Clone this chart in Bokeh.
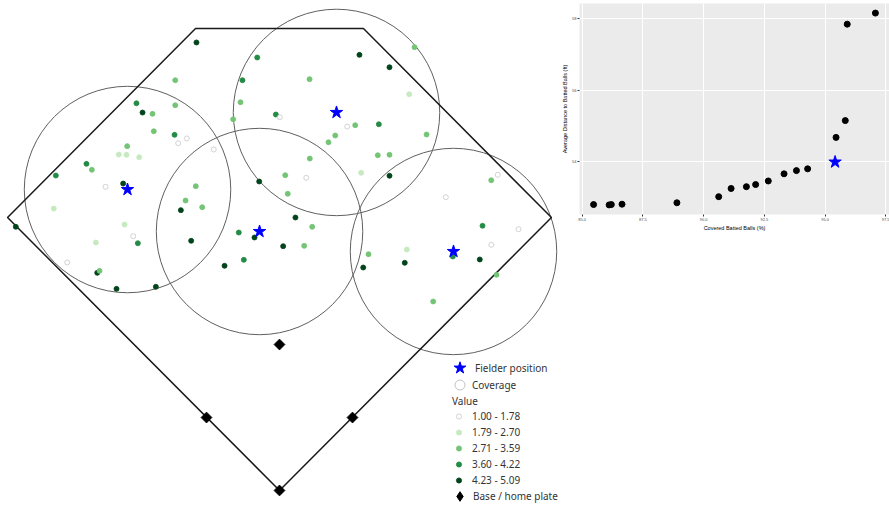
import numpy as np
from bokeh.plotting import figure
from bokeh.models import (Range1d, Legend, LegendItem, FixedTicker,
                          PrintfTickFormatter, ColumnDataSource)
from bokeh.layouts import row, column
from bokeh.embed import file_html
from bokeh.resources import INLINE

# ---------------- Field data (feet, home plate at origin) ----------------
base_x = [0.0, 63.64, 0.0, -63.64]
base_y = [0.0, 63.64, 127.28, 63.64]

fence_x = [0.0, -237.1, -73.2, 73.2, 237.1, 0.0]
fence_y = [0.0, 238.0, 402.8, 402.8, 238.0, 0.0]

fielder_x = [-132.5, -17.4, 49.7, 151.7]
fielder_y = [262.4, 225.8, 329.6, 208.4]
coverage_radius_ft = 90

ball_x = [-72.4, -19.4, -90.9, -32.3, -124.7, -119.4, -110.7, -90.9, -34.0, -40.4,
          -3.2, 0.3, -109.6, -91.5, -80.8, -88.3, -132.8, -140.1, -133.4, -122.3,
          -57.3, -168.3, -163.6, -195.0, -136.3, -151.7, -196.8, -229.9, -135.1, -127.5,
          -123.5, -160.1, -185.1, -158.9, -156.9, -142.1, -107.8, -17.7, 5.0, 7.2,
          -73.0, -81.9, -67.4, -86.0, 13.9, -35.5, -21.8, 3.2, -77.0, -31.1,
          -47.9, 69.7, 95.9, 117.7, 26.2, 113.1, 59.0, 66.0, 86.6, 48.6,
          42.7, 128.2, 85.7, 95.9, 26.4, 71.2, 23.3, 95.9, 145.0, 28.5,
          21.5, 77.6, 111.0, 109.2, 73.0, 134.0, 190.3, 184.6, 177.0, 208.4,
          184.6, 151.1, 174.6, 189.2]
ball_y = [390.6, 377.5, 357.7, 357.7, 337.6, 329.5, 328.4, 335.9, 338.5, 323.7,
          327.8, 325.4, 313.2, 310.1, 306.9, 302.8, 300.2, 292.9, 292.7, 290.6,
          297.3, 284.8, 279.6, 274.6, 267.6, 264.8, 245.8, 229.9, 231.9, 221.7,
          215.6, 216.2, 198.8, 189.8, 191.5, 175.8, 177.6, 269.4, 274.9, 258.7,
          265.3, 252.8, 247.0, 244.4, 238.0, 224.9, 220.6, 213.0, 217.7, 201.1,
          195.9, 379.8, 369.0, 386.5, 358.6, 345.5, 317.3, 318.5, 319.3, 309.5,
          303.6, 310.4, 292.3, 292.7, 289.4, 277.0, 272.6, 274.4, 255.7, 229.9,
          213.3, 206.0, 210.1, 198.5, 194.4, 164.8, 275.2, 270.5, 230.8, 227.8,
          214.2, 204.0, 201.4, 188.0]
ball_bin = [5, 4, 3, 4, 4, 5, 3, 3, 3, 3,
            4, 1, 3, 4, 1, 1, 3, 2, 2, 2,
            1, 4, 3, 4, 5, 1, 2, 5, 2, 1,
            4, 2, 1, 5, 3, 5, 5, 5, 3, 3,
            3, 3, 3, 5, 5, 4, 5, 5, 5, 4,
            5, 5, 5, 3, 3, 2, 1, 3, 4, 3,
            3, 3, 3, 3, 3, 2, 1, 5, 1, 3,
            3, 3, 2, 5, 5, 3, 1, 3, 4, 1,
            1, 4, 5, 3]

value_labels = ["1.00 - 1.78", "1.79 - 2.70", "2.71 - 3.59", "3.60 - 4.22", "4.23 - 5.09"]
value_fill = ["#ffffff", "#c7e9c0", "#74c476", "#238b45", "#00441b"]
value_line = ["#c8c8c8", "#c7e9c0", "#74c476", "#238b45", "#00441b"]

# ---------------- Trade-off data ----------------
covered_pct = [85.47, 86.11, 86.20, 86.64, 88.90, 90.62, 91.13, 91.76, 92.14,
               92.66, 93.31, 93.82, 94.28, 95.45, 95.83, 95.91, 97.07]
avg_dist = [52.80, 52.79, 52.80, 52.81, 52.85, 53.02, 53.25, 53.30, 53.36,
            53.46, 53.66, 53.75, 53.80, 54.68, 55.15, 57.85, 58.16]
chosen_pct = [95.41]
chosen_dist = [53.99]
x_ticks = [85.0, 87.5, 90.0, 92.5, 95.0, 97.5]
y_ticks = [54, 56, 58]

FONT = "Noto Sans"
NAN = [float("nan")]

# ---------------- Field figure ----------------
p = figure(width=580, height=505, x_range=Range1d(-243.24, 262.42),
           y_range=Range1d(-13.08, 427.20), output_backend="svg",
           x_axis_type=None, y_axis_type=None, title=None,
           toolbar_location=None, min_border=0, outline_line_color=None)
p.grid.visible = False

p.circle(x=fielder_x, y=fielder_y, radius=coverage_radius_ft,
         fill_color=None, line_color="#5f5f5f", line_width=1)
p.line(fence_x, fence_y, line_color="#1a1a1a", line_width=1.5)
p.scatter(base_x, base_y, marker="square", angle=np.pi / 4, size=7.6,
          fill_color="black", line_color="black")

src = ColumnDataSource(dict(
    x=ball_x, y=ball_y,
    fill=[value_fill[b - 1] for b in ball_bin],
    line=[value_line[b - 1] for b in ball_bin]))
r_balls = p.scatter("x", "y", source=src, size=5, fill_color="fill",
                    line_color="line", line_width=0.8)
r_star = p.scatter(fielder_x, fielder_y, marker="star", size=13,
                   fill_color="#0000ff", line_color="#0000ff")
# legend keys (no visible data)
r_cov_key = p.scatter(x=NAN, y=NAN, marker="circle", fill_color=None,
                      line_color="#c4c4c4", line_width=1)
r_base_key = p.scatter(x=NAN, y=NAN, marker="diamond", fill_color="black",
                       line_color="black")

common = dict(padding=0, margin=0, border_line_color=None, background_fill_alpha=0,
              label_text_font=FONT, label_text_font_size="10px",
              label_text_color="#333333", spacing=0)

leg_star = Legend(items=[LegendItem(label="Fielder position", renderers=[r_star])],
                  location=(444, 122), glyph_width=31, glyph_height=31,
                  label_height=31, label_standoff=-4, **common)
leg_cov = Legend(items=[LegendItem(label="Coverage", renderers=[r_cov_key])],
                 location=(447, 108), glyph_width=25, glyph_height=25,
                 label_height=25, label_standoff=0, **common)
leg_val = Legend(items=[LegendItem(label=value_labels[k], renderers=[r_balls],
                                   index=ball_bin.index(k + 1)) for k in range(5)],
                 location=(452, 17), glyph_width=13, glyph_height=16,
                 label_height=16, label_standoff=7,
                 title="Value", title_text_font=FONT, title_text_font_size="10px",
                 title_text_font_style="normal", title_text_color="#333333",
                 title_standoff=0, **common)
leg_base = Legend(items=[LegendItem(label="Base / home plate", renderers=[r_base_key])],
                  location=(446, -3), glyph_width=27, glyph_height=24,
                  label_height=24, label_standoff=-1, **common)
for lg in (leg_star, leg_cov, leg_val, leg_base):
    p.add_layout(lg)

# ---------------- Trade-off figure ----------------
all_x = covered_pct + chosen_pct
all_y = avg_dist + chosen_dist
rx = max(all_x) - min(all_x)
ry = max(all_y) - min(all_y)
q = figure(frame_width=310, frame_height=211,
           x_range=Range1d(min(all_x) - 0.05 * rx, max(all_x) + 0.05 * rx),
           y_range=Range1d(min(all_y) - 0.05 * ry, max(all_y) + 0.05 * ry),
           output_backend="svg", toolbar_location=None,
           min_border_left=21, min_border_right=0, min_border_top=3, min_border_bottom=18,
           background_fill_color="#ebebeb", outline_line_color=None)
q.xaxis.ticker = FixedTicker(ticks=x_ticks)
q.xaxis.formatter = PrintfTickFormatter(format="%.1f")
q.yaxis.ticker = FixedTicker(ticks=y_ticks)
q.xaxis.axis_label = "Covered Batted Balls (%)"
q.yaxis.axis_label = "Average Distance to Batted Balls (ft)"
for ax in (q.xaxis[0], q.yaxis[0]):
    ax.axis_line_color = None
    ax.major_tick_line_color = "#333333"
    ax.major_tick_in = 0
    ax.major_tick_out = 2
    ax.minor_tick_line_color = None
    ax.major_label_text_font = "Liberation Sans"
    ax.major_label_text_font_size = "4px"
    ax.major_label_text_color = "#4d4d4d"
    ax.major_label_standoff = 1
    ax.axis_label_text_font = "Liberation Sans"
    ax.axis_label_text_font_size = "5.5px"
    ax.axis_label_text_font_style = "normal"
    ax.axis_label_text_color = "#000000"
    ax.axis_label_standoff = 1
q.grid.grid_line_color = "white"
q.grid.grid_line_width = 1

q.scatter(covered_pct, avg_dist, size=6, color="black")
q.scatter(chosen_pct, chosen_dist, marker="star", size=13,
          fill_color="#0000ff", line_color="#0000ff")

layout = row(p, column(q, margin=(0, 0, 0, -22)))
open("out.html", "w").write(file_html(layout, INLINE))
